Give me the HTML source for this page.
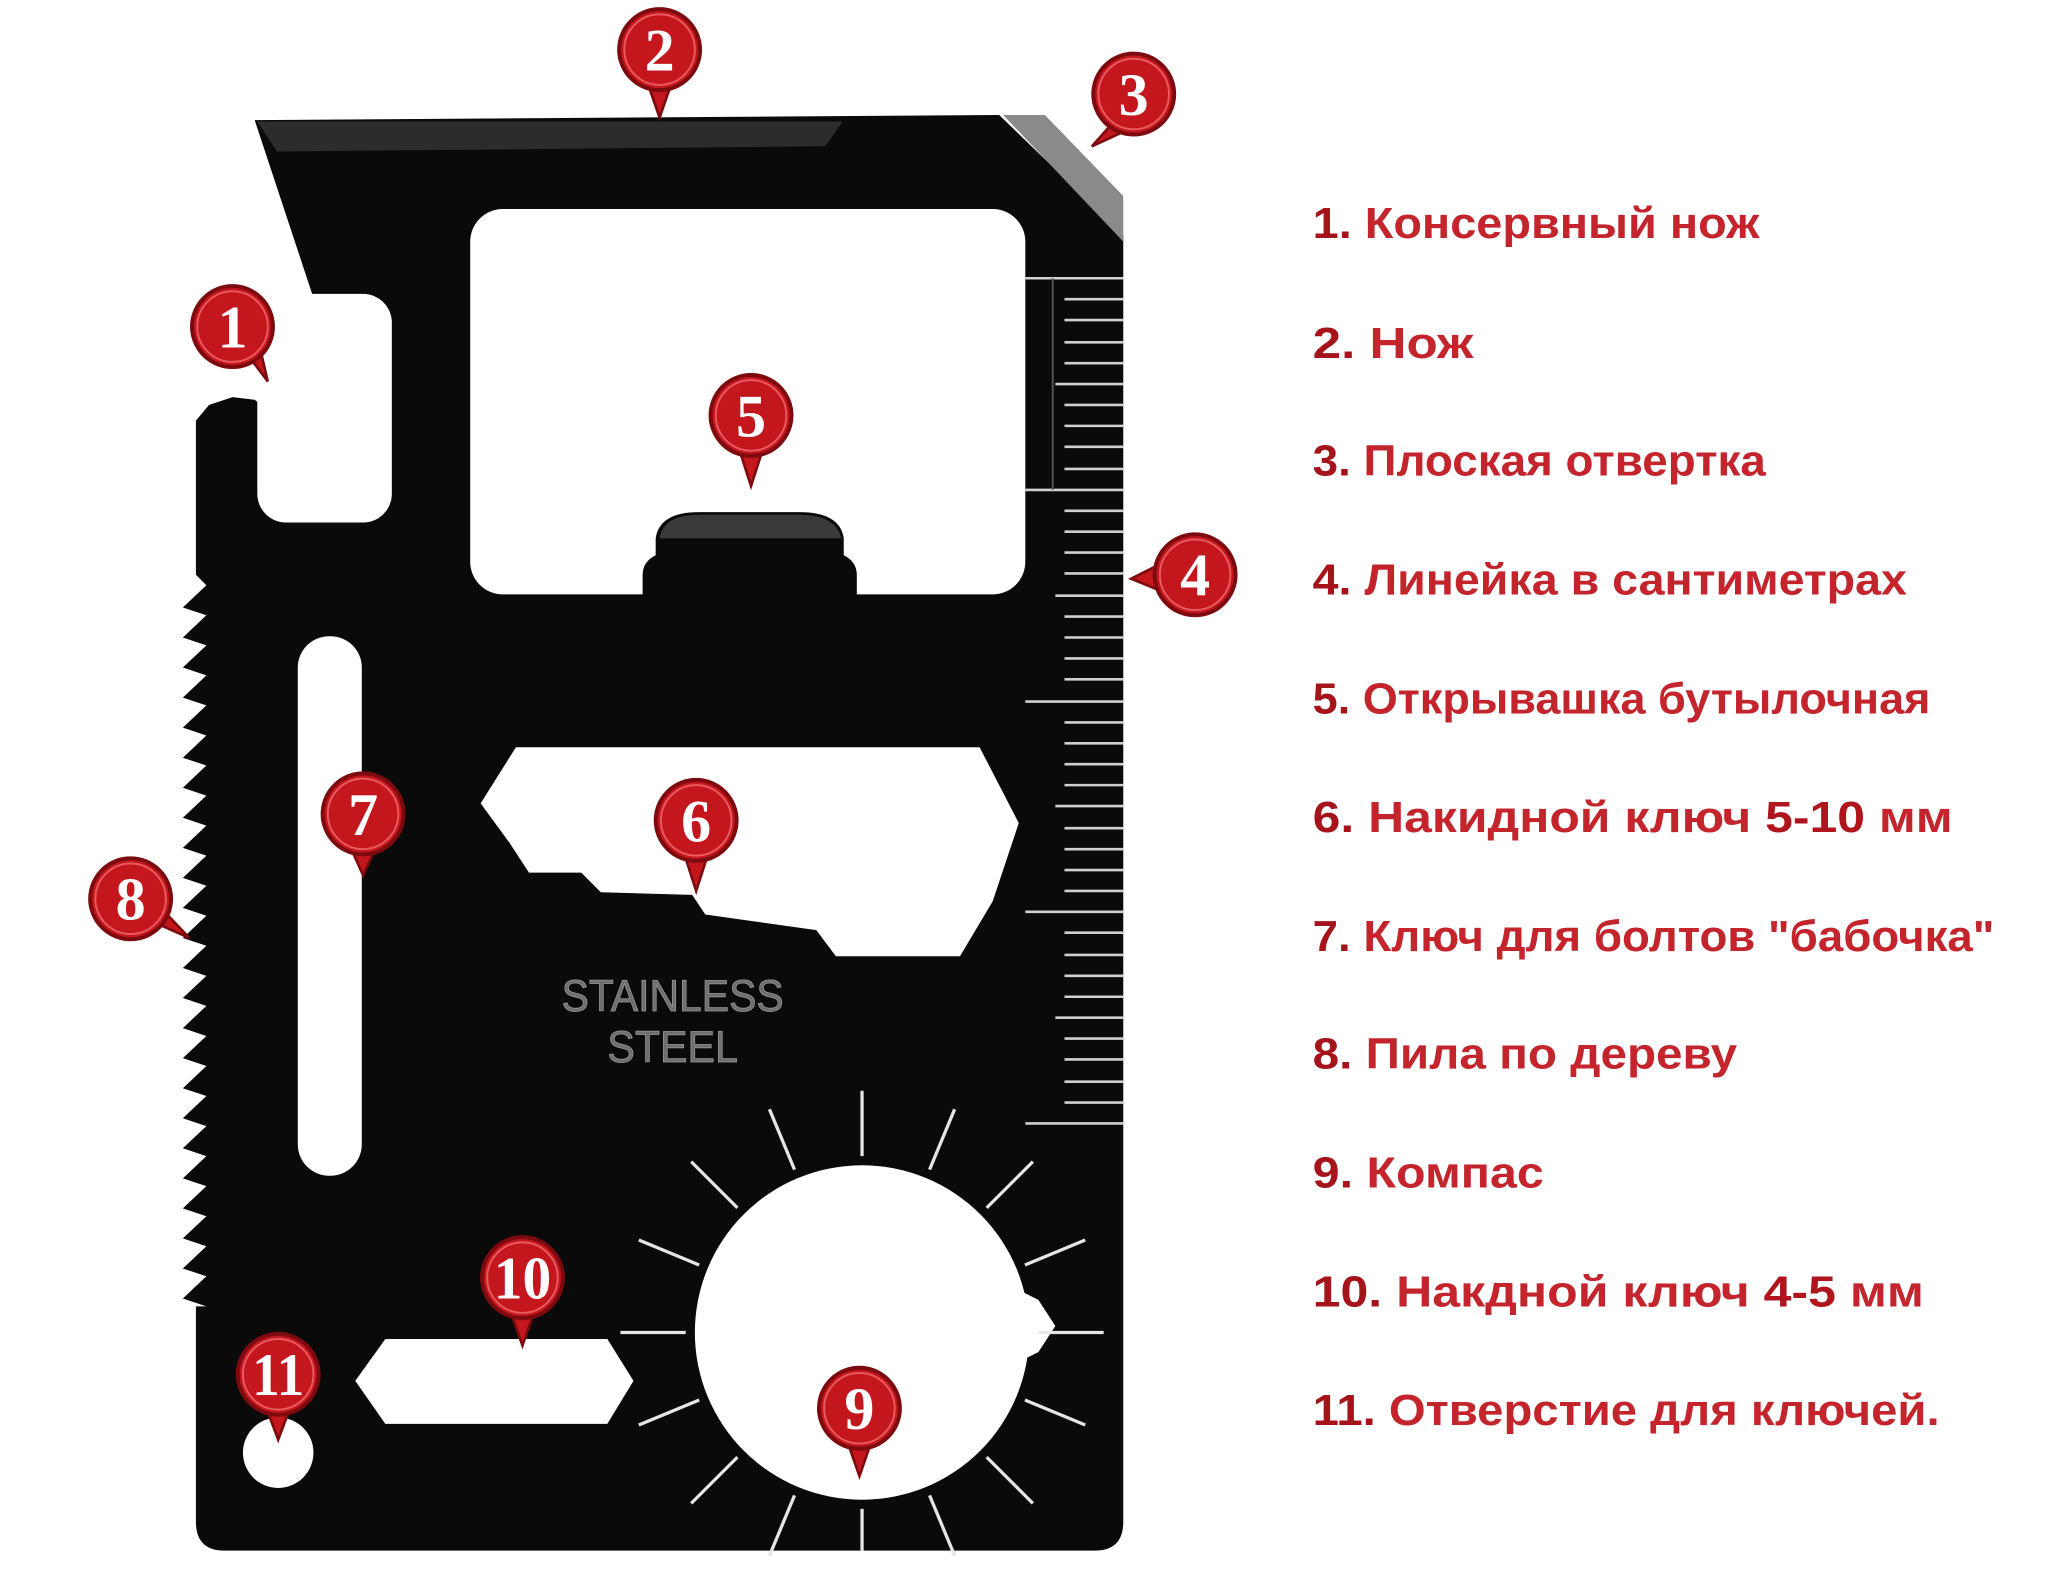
<!DOCTYPE html>
<html><head><meta charset="utf-8"><style>html,body{margin:0;padding:0;background:#fff}svg{display:block}</style></head><body>
<svg width="2048" height="1582" viewBox="0 0 1568 1211" preserveAspectRatio="none" xmlns="http://www.w3.org/2000/svg">
<rect width="1568" height="1211" fill="#fff"/>
<!-- card -->
<path fill="#0a0a0a" d="M195,92 L765,88 L860,180 L860,1165 Q860,1187 838,1187 L172,1187 Q150,1187 150,1165 L150,1000 L158,1000
L140,994 L158,977 L140,971 L158,954 L140,948 L158,931 L140,925 L158,908 L140,902 L158,885 L140,879 L158,862 L140,856 L158,839 L140,833 L158,816 L140,810 L158,793 L140,787 L158,770 L140,764 L158,747 L140,741 L158,724 L140,718 L158,701 L140,695 L158,678 L140,672 L158,655 L140,649 L158,632 L140,626 L158,609 L140,603 L158,586 L140,580 L158,563 L140,557 L158,540 L140,534 L158,517 L140,511 L158,494 L140,488 L158,471 L140,465 L158,448 L150,440
L150,322 L160,310 L178,304 L195,306 L205,314 L215,290 L240,228 Z"/>
<polygon points="197,93 645,93 632,112 212,116" fill="#2c2c2c"/>
<polygon points="768,88 800,88 860,150 860,185" fill="#8a8a8a"/>
<!-- cutouts -->
<rect x="197" y="225" width="103" height="175" rx="22" fill="#fff"/>
<rect x="360" y="160" width="425" height="295" rx="25" fill="#fff"/>
<path d="M492,460 L492,440 Q492,430 502,425 L502,412 Q505,392 535,392 L612,392 Q643,392 646,412 L646,425 Q656,430 656,440 L656,460 Z" fill="#0a0a0a"/>
<path d="M505,412 Q508,394 535,394 L612,394 Q640,394 644,412 Z" fill="#3a3a3a"/>
<rect x="228" y="487" width="49" height="413" rx="24" fill="#fff"/>
<polygon points="395,572 750,572 780,630 760,690 735,732 640,732 625,712 540,700 530,685 460,683 445,668 405,668 390,645 368,615" fill="#fff"/>
<polygon points="295,1025 465,1025 485,1057 465,1090 295,1090 272,1057" fill="#fff"/>
<circle cx="213" cy="1112" r="27" fill="#fff"/>
<circle cx="660" cy="1020" r="128" fill="#fff"/>
<path d="M775,985 L795,995 L808,1015 L795,1035 L775,1045 Z" fill="#fff"/>
<!-- compass ticks -->
<g stroke="#e6e6e6" stroke-width="2.5">
<line x1="660" y1="885" x2="660" y2="835"/>
<line x1="711.7" y1="895.3" x2="730.9" y2="849.1"/>
<line x1="755.4" y1="924.6" x2="790.8" y2="889.2"/>
<line x1="784.7" y1="968.3" x2="830.9" y2="949.2"/>
<line x1="795" y1="1020" x2="845" y2="1020"/>
<line x1="784.7" y1="1071.7" x2="830.9" y2="1090.8"/>
<line x1="755.4" y1="1115.4" x2="790.8" y2="1150.8"/>
<line x1="711.7" y1="1144.7" x2="730.9" y2="1190.9"/>
<line x1="660" y1="1155" x2="660" y2="1187"/>
<line x1="608.3" y1="895.3" x2="589.1" y2="849.1"/>
<line x1="564.6" y1="924.6" x2="529.2" y2="889.2"/>
<line x1="535.3" y1="968.3" x2="489.1" y2="949.2"/>
<line x1="525" y1="1020" x2="475" y2="1020"/>
<line x1="535.3" y1="1071.7" x2="489.1" y2="1090.8"/>
<line x1="564.6" y1="1115.4" x2="529.2" y2="1150.8"/>
<line x1="608.3" y1="1144.7" x2="589.1" y2="1190.9"/>
</g>
<!-- ruler -->
<g stroke="#d0d0d0" stroke-width="2">
<line x1="785" y1="213" x2="860" y2="213"/><line x1="815" y1="229" x2="860" y2="229"/><line x1="815" y1="245" x2="860" y2="245"/><line x1="815" y1="262" x2="860" y2="262"/><line x1="815" y1="278" x2="860" y2="278"/><line x1="808" y1="294" x2="860" y2="294"/><line x1="815" y1="310" x2="860" y2="310"/><line x1="815" y1="326" x2="860" y2="326"/><line x1="815" y1="342" x2="860" y2="342"/><line x1="815" y1="359" x2="860" y2="359"/>
<line x1="785" y1="375" x2="860" y2="375"/><line x1="815" y1="391" x2="860" y2="391"/><line x1="815" y1="407" x2="860" y2="407"/><line x1="815" y1="423" x2="860" y2="423"/><line x1="815" y1="439" x2="860" y2="439"/><line x1="808" y1="456" x2="860" y2="456"/><line x1="815" y1="472" x2="860" y2="472"/><line x1="815" y1="488" x2="860" y2="488"/><line x1="815" y1="504" x2="860" y2="504"/><line x1="815" y1="520" x2="860" y2="520"/>
<line x1="785" y1="537" x2="860" y2="537"/><line x1="815" y1="553" x2="860" y2="553"/><line x1="815" y1="569" x2="860" y2="569"/><line x1="815" y1="585" x2="860" y2="585"/><line x1="815" y1="601" x2="860" y2="601"/><line x1="808" y1="617" x2="860" y2="617"/><line x1="815" y1="634" x2="860" y2="634"/><line x1="815" y1="650" x2="860" y2="650"/><line x1="815" y1="666" x2="860" y2="666"/><line x1="815" y1="682" x2="860" y2="682"/>
<line x1="785" y1="698" x2="860" y2="698"/><line x1="815" y1="714" x2="860" y2="714"/><line x1="815" y1="731" x2="860" y2="731"/><line x1="815" y1="747" x2="860" y2="747"/><line x1="815" y1="763" x2="860" y2="763"/><line x1="808" y1="779" x2="860" y2="779"/><line x1="815" y1="795" x2="860" y2="795"/><line x1="815" y1="811" x2="860" y2="811"/><line x1="815" y1="828" x2="860" y2="828"/><line x1="815" y1="844" x2="860" y2="844"/>
<line x1="785" y1="860" x2="860" y2="860"/>
</g>
<line x1="806" y1="213" x2="806" y2="375" stroke="#555" stroke-width="1.5"/>
<!-- embossed text -->
<g font-family="Liberation Sans, sans-serif" font-size="34" fill="#6e6e6e" stroke="#999" stroke-width="0.6" text-anchor="middle">
<text x="515" y="774" textLength="170" lengthAdjust="spacingAndGlyphs">STAINLESS</text>
<text x="515" y="813" textLength="100" lengthAdjust="spacingAndGlyphs">STEEL</text>
</g>
<!-- markers -->
<defs>
<g id="mk"><circle cx="0" cy="0" r="31" fill="#c3161d" stroke="#7c0a0e" stroke-width="3"/><circle cx="0" cy="0" r="27" fill="none" stroke="#e85a5f" stroke-width="1.5"/></g>
</defs>
<g fill="#c3161d" stroke="#7c0a0e" stroke-width="2">
<polygon points="190,272 205,292 198,262"/>
<polygon points="496,64 505,90 514,64"/>
<polygon points="852,94 836,112 862,100"/>
<polygon points="888,432 866,443 888,452"/>
<polygon points="566,344 575,372 584,344"/>
<polygon points="524,654 533,682 542,654"/>
<polygon points="269,650 278,670 287,650"/>
<polygon points="118,706 145,718 126,698"/>
<polygon points="649,1104 658,1130 667,1104"/>
<polygon points="391,1004 400,1030 409,1004"/>
<polygon points="204,1078 213,1102 222,1078"/>
</g>
<use href="#mk" x="178" y="250"/><use href="#mk" x="505" y="38"/><use href="#mk" x="868" y="72"/><use href="#mk" x="915" y="440"/><use href="#mk" x="575" y="318"/><use href="#mk" x="533" y="628"/><use href="#mk" x="278" y="623"/><use href="#mk" x="100" y="688"/><use href="#mk" x="658" y="1078"/><use href="#mk" x="400" y="978"/><use href="#mk" x="213" y="1052"/>
<g font-family="Liberation Serif, serif" font-weight="bold" font-size="46" fill="#fff" text-anchor="middle">
<text x="178" y="266">1</text><text x="505" y="54">2</text><text x="868" y="88">3</text><text x="915" y="456">4</text><text x="575" y="334">5</text><text x="533" y="644">6</text><text x="278" y="639">7</text><text x="100" y="704">8</text><text x="658" y="1094">9</text>
<text x="400" y="994" textLength="44" lengthAdjust="spacingAndGlyphs">10</text><text x="213" y="1068" textLength="40" lengthAdjust="spacingAndGlyphs">11</text>
</g>
<!-- legend -->
<g font-family="Liberation Sans, sans-serif" font-weight="bold" font-size="33" fill="#c4242c">
<text x="1005" y="182" textLength="342" lengthAdjust="spacingAndGlyphs"><tspan fill="#a5141b">1.</tspan> Консервный нож</text>
<text x="1005" y="274" textLength="123" lengthAdjust="spacingAndGlyphs"><tspan fill="#a5141b">2.</tspan> Нож</text>
<text x="1005" y="364" textLength="347" lengthAdjust="spacingAndGlyphs"><tspan fill="#a5141b">3.</tspan> Плоская отвертка</text>
<text x="1005" y="455" textLength="455" lengthAdjust="spacingAndGlyphs"><tspan fill="#a5141b">4.</tspan> Линейка в сантиметрах</text>
<text x="1005" y="546" textLength="473" lengthAdjust="spacingAndGlyphs"><tspan fill="#a5141b">5.</tspan> Открывашка бутылочная</text>
<text x="1005" y="637" textLength="490" lengthAdjust="spacingAndGlyphs"><tspan fill="#a5141b">6.</tspan> Накидной ключ <tspan fill="#b0141c">5-10</tspan> мм</text>
<text x="1005" y="728" textLength="522" lengthAdjust="spacingAndGlyphs"><tspan fill="#a5141b">7.</tspan> Ключ для болтов "бабочка"</text>
<text x="1005" y="818" textLength="325" lengthAdjust="spacingAndGlyphs"><tspan fill="#a5141b">8.</tspan> Пила по дереву</text>
<text x="1005" y="909" textLength="177" lengthAdjust="spacingAndGlyphs"><tspan fill="#a5141b">9.</tspan> Компас</text>
<text x="1005" y="1000" textLength="468" lengthAdjust="spacingAndGlyphs"><tspan fill="#a5141b">10.</tspan> Накдной ключ <tspan fill="#b0141c">4-5</tspan> мм</text>
<text x="1005" y="1091" textLength="480" lengthAdjust="spacingAndGlyphs"><tspan fill="#a5141b">11.</tspan> Отверстие для ключей.</text>
</g>
</svg>
</body></html>
